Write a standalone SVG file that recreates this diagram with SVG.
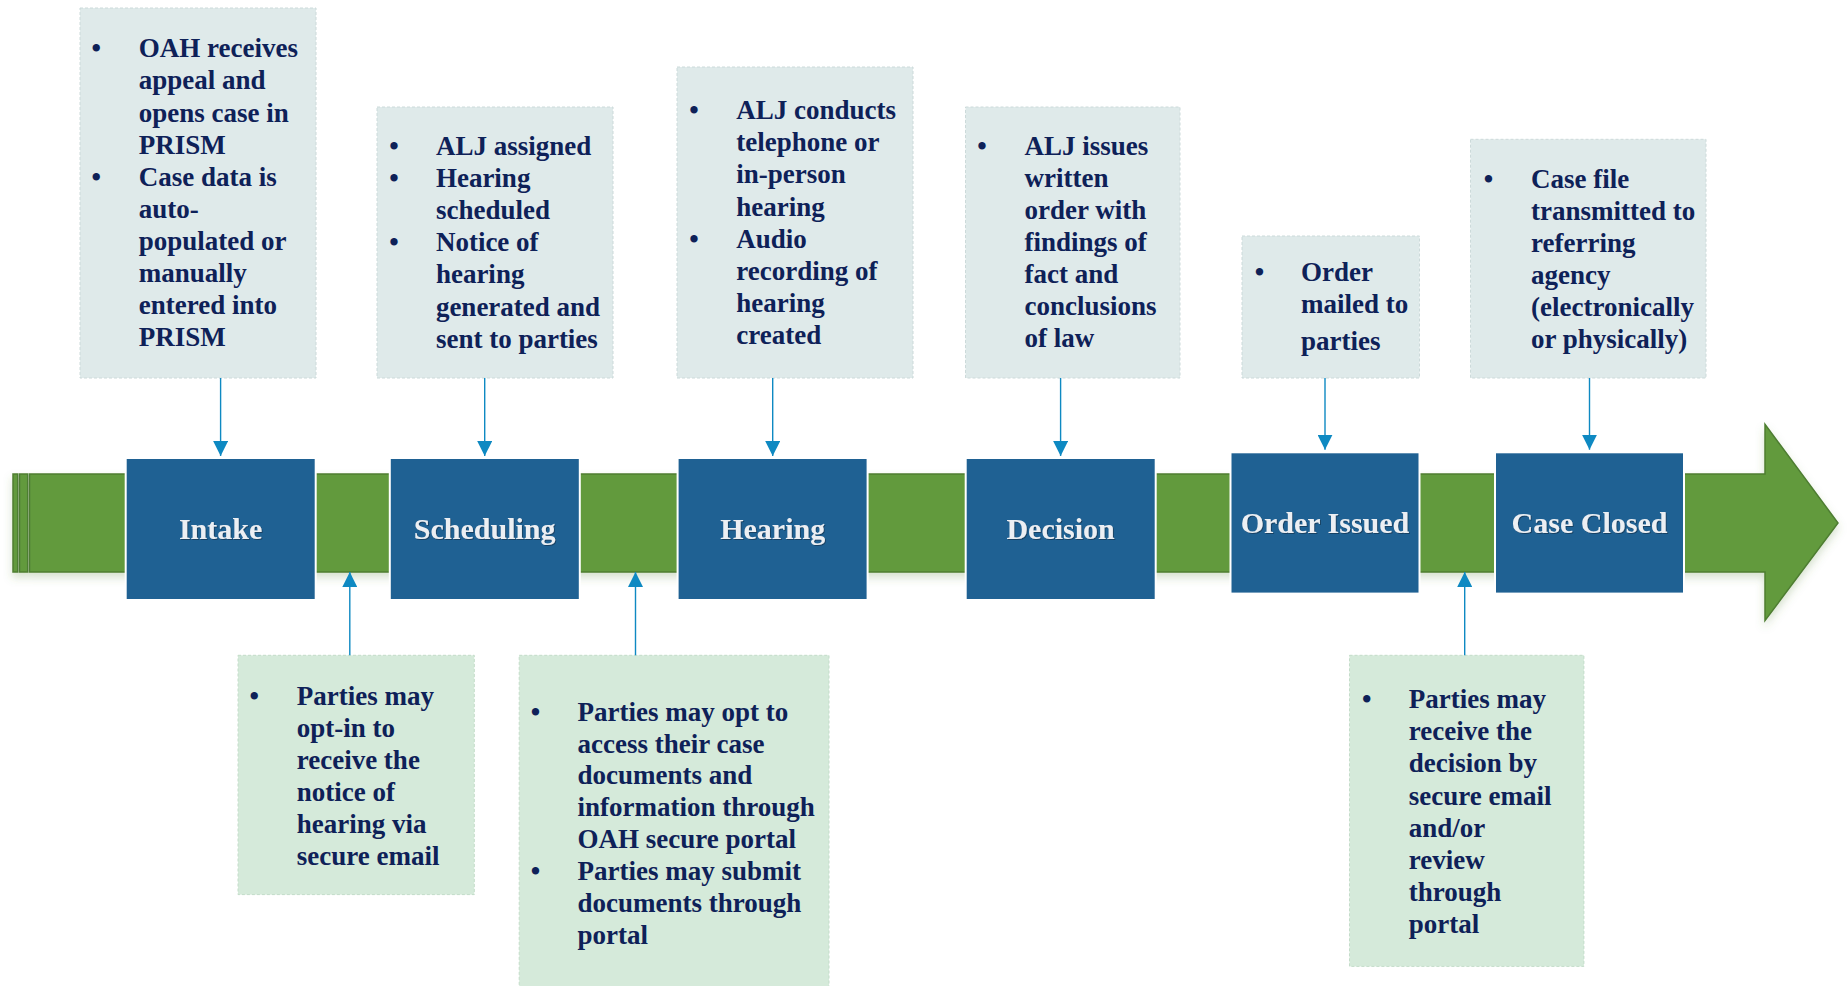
<svg xmlns="http://www.w3.org/2000/svg" width="1847" height="986" viewBox="0 0 1847 986">
<defs>
<style>
.info{fill:#dfeaea;stroke:#ccdada;stroke-width:1;stroke-dasharray:3 2}
.infog{fill:#d5eada;stroke:#c3dcc9;stroke-width:1;stroke-dasharray:3 2}
.t{font-family:"Liberation Serif","Times New Roman",serif;font-weight:bold;font-size:27px;fill:#0e2158}
.b{font-family:"Liberation Serif","Times New Roman",serif;font-weight:bold;font-size:27px;fill:#0e2158;text-anchor:middle}
.step{fill:#1f6193;stroke:#ffffff;stroke-width:2}
.lbl{font-family:"Liberation Serif","Times New Roman",serif;font-weight:bold;font-size:30px;fill:#eceff3;text-anchor:middle}
.band{fill:#629a3e;stroke:#4e7d31;stroke-width:1.5}
.con{stroke:#0e89c2;stroke-width:1.4;fill:none;marker-end:url(#ah)}
</style>
<marker id="ah" viewBox="0 0 10 10" refX="10" refY="5" markerUnits="userSpaceOnUse" markerWidth="15" markerHeight="15" orient="auto">
<path d="M0,0 L10,5 L0,10 z" fill="#0e89c2"/>
</marker>
<filter id="sh" x="-5%" y="-20%" width="110%" height="150%">
<feDropShadow dx="0" dy="5" stdDeviation="4" flood-color="#5a8a3a" flood-opacity="0.25"/>
</filter>
<filter id="ts" x="-10%" y="-20%" width="120%" height="150%">
<feDropShadow dx="1" dy="1" stdDeviation="0.6" flood-color="#0a2a45" flood-opacity="0.6"/>
</filter>
</defs>
<rect width="1847" height="986" fill="#ffffff"/>

<g id="band" filter="url(#sh)">
<rect class="band" x="13" y="474" width="4.7" height="98"/>
<rect class="band" x="19.5" y="474" width="8.2" height="98"/>
<polygon class="band" points="29.5,474 1765,474 1765,424.3 1838,523 1765,620.6 1765,572 29.5,572"/>
</g>

<g id="info-intake">
<rect class="info" x="80" y="8" width="236" height="370"/>
<text class="b" x="96.3" y="57.3">•</text>
<text class="t" x="138.8" y="57.3">OAH receives</text>
<text class="t" x="138.8" y="89.4">appeal and</text>
<text class="t" x="138.8" y="121.5">opens case in</text>
<text class="t" x="138.8" y="153.6">PRISM</text>
<text class="b" x="96.3" y="185.7">•</text>
<text class="t" x="138.8" y="185.7">Case data is</text>
<text class="t" x="138.8" y="217.8">auto-</text>
<text class="t" x="138.8" y="249.9">populated or</text>
<text class="t" x="138.8" y="282">manually</text>
<text class="t" x="138.8" y="314">entered into</text>
<text class="t" x="138.8" y="346">PRISM</text>
</g>

<g id="info-scheduling">
<rect class="info" x="377" y="107" width="236" height="271"/>
<text class="b" x="393.9" y="155">•</text>
<text class="t" x="435.9" y="155">ALJ assigned</text>
<text class="b" x="393.9" y="187">•</text>
<text class="t" x="435.9" y="187">Hearing</text>
<text class="t" x="435.9" y="219">scheduled</text>
<text class="b" x="393.9" y="251.3">•</text>
<text class="t" x="435.9" y="251.3">Notice of</text>
<text class="t" x="435.9" y="283.4">hearing</text>
<text class="t" x="435.9" y="315.6">generated and</text>
<text class="t" x="435.9" y="347.8">sent to parties</text>
</g>

<g id="info-hearing">
<rect class="info" x="677" y="67" width="236" height="311"/>
<text class="b" x="693.9" y="119">•</text>
<text class="t" x="736.3" y="119">ALJ conducts</text>
<text class="t" x="736.3" y="151.2">telephone or</text>
<text class="t" x="736.3" y="183.4">in-person</text>
<text class="t" x="736.3" y="215.6">hearing</text>
<text class="b" x="693.9" y="247.8">•</text>
<text class="t" x="736.3" y="247.8">Audio</text>
<text class="t" x="736.3" y="280">recording of</text>
<text class="t" x="736.3" y="312.2">hearing</text>
<text class="t" x="736.3" y="344.4">created</text>
</g>

<g id="info-decision">
<rect class="info" x="965.5" y="107" width="214.5" height="271"/>
<text class="b" x="982" y="155">•</text>
<text class="t" x="1024.5" y="155">ALJ issues</text>
<text class="t" x="1024.5" y="187">written</text>
<text class="t" x="1024.5" y="219">order with</text>
<text class="t" x="1024.5" y="251">findings of</text>
<text class="t" x="1024.5" y="283">fact and</text>
<text class="t" x="1024.5" y="315">conclusions</text>
<text class="t" x="1024.5" y="347">of law</text>
</g>

<g id="info-order">
<rect class="info" x="1242" y="236" width="177.5" height="142"/>
<text class="b" x="1259.4" y="281">•</text>
<text class="t" x="1301" y="281">Order</text>
<text class="t" x="1301" y="313.3">mailed to</text>
<text class="t" x="1301" y="350">parties</text>
</g>

<g id="info-closed">
<rect class="info" x="1470.5" y="139.3" width="235.5" height="238.7"/>
<text class="b" x="1488.4" y="188.3">•</text>
<text class="t" x="1531" y="188.3">Case file</text>
<text class="t" x="1531" y="220.3">transmitted to</text>
<text class="t" x="1531" y="252.3">referring</text>
<text class="t" x="1531" y="284.3">agency</text>
<text class="t" x="1531" y="316.3">(electronically</text>
<text class="t" x="1531" y="348.3">or physically)</text>
</g>

<g id="step-intake">
<rect class="step" x="125.7" y="458" width="190" height="142"/>
<text class="lbl" x="220.6" y="539" filter="url(#ts)">Intake</text>
</g>
<g id="step-scheduling">
<rect class="step" x="389.8" y="458" width="190" height="142"/>
<text class="lbl" x="484.7" y="539" filter="url(#ts)">Scheduling</text>
</g>
<g id="step-hearing">
<rect class="step" x="677.6" y="458" width="190" height="142"/>
<text class="lbl" x="772.7" y="539" filter="url(#ts)">Hearing</text>
</g>
<g id="step-decision">
<rect class="step" x="965.7" y="458" width="190" height="142"/>
<text class="lbl" x="1060.6" y="539" filter="url(#ts)">Decision</text>
</g>
<g id="step-order">
<rect class="step" x="1230.5" y="452.3" width="189" height="141.3"/>
<text class="lbl" x="1325" y="532.7" filter="url(#ts)">Order Issued</text>
</g>
<g id="step-closed">
<rect class="step" x="1495" y="452.3" width="189" height="141.3"/>
<text class="lbl" x="1589.5" y="532.7" filter="url(#ts)">Case Closed</text>
</g>

<g id="info-optin">
<rect class="infog" x="238" y="655.3" width="236.3" height="239.3"/>
<text class="b" x="254.3" y="704.7">•</text>
<text class="t" x="296.7" y="704.7">Parties may</text>
<text class="t" x="296.7" y="736.7">opt-in to</text>
<text class="t" x="296.7" y="768.7">receive the</text>
<text class="t" x="296.7" y="800.7">notice of</text>
<text class="t" x="296.7" y="832.7">hearing via</text>
<text class="t" x="296.7" y="864.7">secure email</text>
</g>

<g id="info-portal">
<rect class="infog" x="519.2" y="655.3" width="309.8" height="340"/>
<text class="b" x="535.5" y="720.7">•</text>
<text class="t" x="577.6" y="720.7">Parties may opt to</text>
<text class="t" x="577.6" y="752.5">access their case</text>
<text class="t" x="577.6" y="784.3">documents and</text>
<text class="t" x="577.6" y="816.1">information through</text>
<text class="t" x="577.6" y="847.9">OAH secure portal</text>
<text class="b" x="535.5" y="880">•</text>
<text class="t" x="577.6" y="880">Parties may submit</text>
<text class="t" x="577.6" y="912">documents through</text>
<text class="t" x="577.6" y="944">portal</text>
</g>

<g id="info-receive">
<rect class="infog" x="1349.5" y="655.3" width="234.4" height="311.1"/>
<text class="b" x="1366.8" y="708.4">•</text>
<text class="t" x="1408.8" y="708.4">Parties may</text>
<text class="t" x="1408.8" y="740.2">receive the</text>
<text class="t" x="1408.8" y="772">decision by</text>
<text class="t" x="1408.8" y="804.9">secure email</text>
<text class="t" x="1408.8" y="836.6">and/or</text>
<text class="t" x="1408.8" y="868.8">review</text>
<text class="t" x="1408.8" y="900.9">through</text>
<text class="t" x="1408.8" y="933">portal</text>
</g>

<g id="connectors">
<line class="con" x1="220.6" y1="378" x2="220.6" y2="456"/>
<line class="con" x1="484.7" y1="378" x2="484.7" y2="456"/>
<line class="con" x1="772.7" y1="378" x2="772.7" y2="456"/>
<line class="con" x1="1060.6" y1="378" x2="1060.6" y2="456"/>
<line class="con" x1="1325" y1="378" x2="1325" y2="449.7"/>
<line class="con" x1="1589.5" y1="378" x2="1589.5" y2="449.7"/>
<line class="con" x1="349.8" y1="655.3" x2="349.8" y2="572"/>
<line class="con" x1="635.5" y1="655.3" x2="635.5" y2="572"/>
<line class="con" x1="1464.7" y1="655.3" x2="1464.7" y2="572"/>
</g>
</svg>
